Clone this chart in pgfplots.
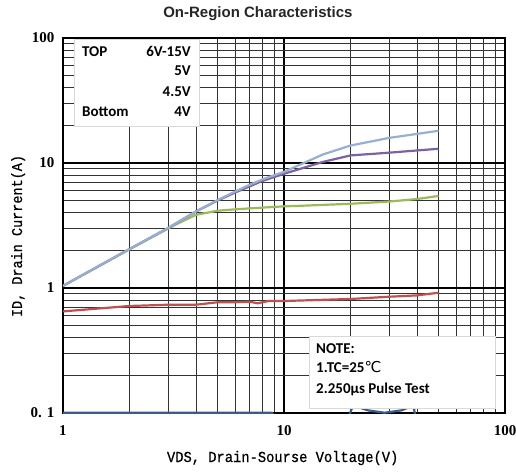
\documentclass[border=0pt]{standalone}
\usepackage{fontspec}
\setmainfont{Liberation Serif}
\newfontfamily\calfont{Carlito}
\newfontfamily\titlefont{Liberation Sans}
\newfontfamily\labfont[FakeStretch=0.9,FakeBold=0.6]{Liberation Mono}
\newfontfamily\symfont{DejaVu Sans}
\usepackage{pgfplots}
\pgfplotsset{compat=1.18}

\definecolor{cTop}{RGB}{152,174,210}
\definecolor{cFive}{RGB}{124,98,160}
\definecolor{cFour5}{RGB}{155,187,89}
\definecolor{cFour}{RGB}{192,80,77}
\definecolor{cLow}{RGB}{56,93,138}

\begin{document}
\begin{tikzpicture}
\begin{axis}[
  name=ax,
  scale only axis,
  width=442pt, height=375pt,
  xmode=log, ymode=log,
  xmin=1, xmax=100, ymin=0.1, ymax=100,
  xtick={1,10,100}, xticklabels={1,10,100},
  ytick={0.1,1,10,100}, yticklabels={0. 1,1,10,100},
  minor xtick={2,3,4,5,6,7,8,9,20,30,40,50,60,70,80,90},
  minor ytick={0.2,0.3,0.4,0.5,0.6,0.7,0.8,0.9,2,3,4,5,6,7,8,9,20,30,40,50,60,70,80,90},
  grid=both,
  major grid style={black, line width=1.3pt},
  minor grid style={black!80, line width=0.7pt},
  axis line style={black, line width=1.5pt},
  tick style={draw=none},
  xticklabel style={font=\bfseries\fontsize{15}{18}\selectfont, yshift=-9pt},
  yticklabel style={font=\bfseries\fontsize{15}{18}\selectfont, xshift=-5pt},
  title={On-Region Characteristics},
  title style={font=\titlefont\bfseries\fontsize{15}{17}\selectfont, text=black!85,
    at={(axis description cs:0.441,1)}, anchor=base, yshift=15pt},
  xlabel={VDS, Drain-Sourse Voltage(V)},
  xlabel style={font=\labfont\fontsize{15.3}{18}\selectfont,
    at={(axis description cs:0.497,0)}, anchor=base, yshift=-49pt},
  ylabel={ID, Drain Current(A)},
  ylabel style={font=\labfont\fontsize{15}{18}\selectfont,
    at={(axis description cs:-0.0928,0.472)}, anchor=base},
]

% VGS = 3.5V (mostly below the axis)
\addplot[color=cLow, line width=2.2pt] coordinates {
  (1,0.1005)(4,0.1005)(8.8,0.1005)(9.3,0.09)(19.5,0.09)(20.5,0.115)
  (24,0.105)(28.5,0.1005)(34,0.105)(38.5,0.115)(39.5,0.09)(50,0.09)
};

% VGS = 4V
\addplot[color=cFour, line width=2.2pt] coordinates {
  (1,0.65)(2,0.718)(3,0.735)(4,0.735)(5,0.769)(6,0.77)(7,0.777)
  (7.6,0.755)(8.5,0.787)(10,0.787)(20,0.817)(30,0.852)(40,0.873)(50,0.917)
};

% VGS = 4.5V
\addplot[color=cFour5, line width=2.2pt] coordinates {
  (1,1.04)(2,2.04)(3,3.0)(3.5,3.45)(4,3.85)(5,4.15)(6,4.26)(8,4.4)
  (10,4.5)(12,4.55)(20,4.72)(30,4.92)(40,5.15)(50,5.45)
};

% VGS = 5V
\addplot[color=cFive, line width=2.2pt] coordinates {
  (1,1.04)(2,2.05)(3,3.03)(4,4.1)(5,5.0)(6,5.8)(8,7.2)(10,8.2)
  (15,10.2)(20,11.5)(30,12.1)(40,12.6)(50,13.0)
};

% VGS = 6V-15V
\addplot[color=cTop, line width=2.2pt] coordinates {
  (1,1.04)(1.5,1.55)(2,2.05)(3,3.03)(4,4.1)(5,5.05)(6,5.9)(7,6.7)
  (8,7.4)(10,8.5)(15,11.7)(20,13.8)(30,15.9)(40,17.1)(50,18.1)
};

% legend box
\draw[fill=white, draw=black!15, line width=0.6pt]
  (axis description cs:0.0249,0.765) rectangle (axis description cs:0.3077,0.997);
\begin{scope}[every node/.style={font=\calfont\bfseries\fontsize{15}{18}\selectfont, inner sep=0pt}]
\node[anchor=base west] at (axis description cs:0.043,0.952) {TOP};
\node[anchor=base east] at (axis description cs:0.2896,0.952) {6V-15V};
\node[anchor=base east] at (axis description cs:0.2896,0.899) {5V};
\node[anchor=base east] at (axis description cs:0.2896,0.845) {4.5V};
\node[anchor=base west] at (axis description cs:0.043,0.792) {Bottom};
\node[anchor=base east] at (axis description cs:0.2896,0.792) {4V};
\end{scope}

% note box
\draw[fill=white, draw=black!15, line width=0.6pt]
  (axis description cs:0.5566,0.0133) rectangle (axis description cs:0.9774,0.2053);
\begin{scope}[every node/.style={font=\calfont\bfseries\fontsize{15}{18}\selectfont, inner sep=0pt, anchor=base west}]
\node at (axis description cs:0.5724,0.160) {NOTE:};
\node at (axis description cs:0.5724,0.1067) {1.TC=25{\symfont\mdseries ℃}};
\node at (axis description cs:0.5724,0.0533) {2.250μs Pulse Test};
\end{scope}
\end{axis}
\pgfresetboundingbox
\path[use as bounding box] (ax.south west) ++(-63pt,-59pt) rectangle ++(516pt,472pt);
\end{tikzpicture}
\end{document}
